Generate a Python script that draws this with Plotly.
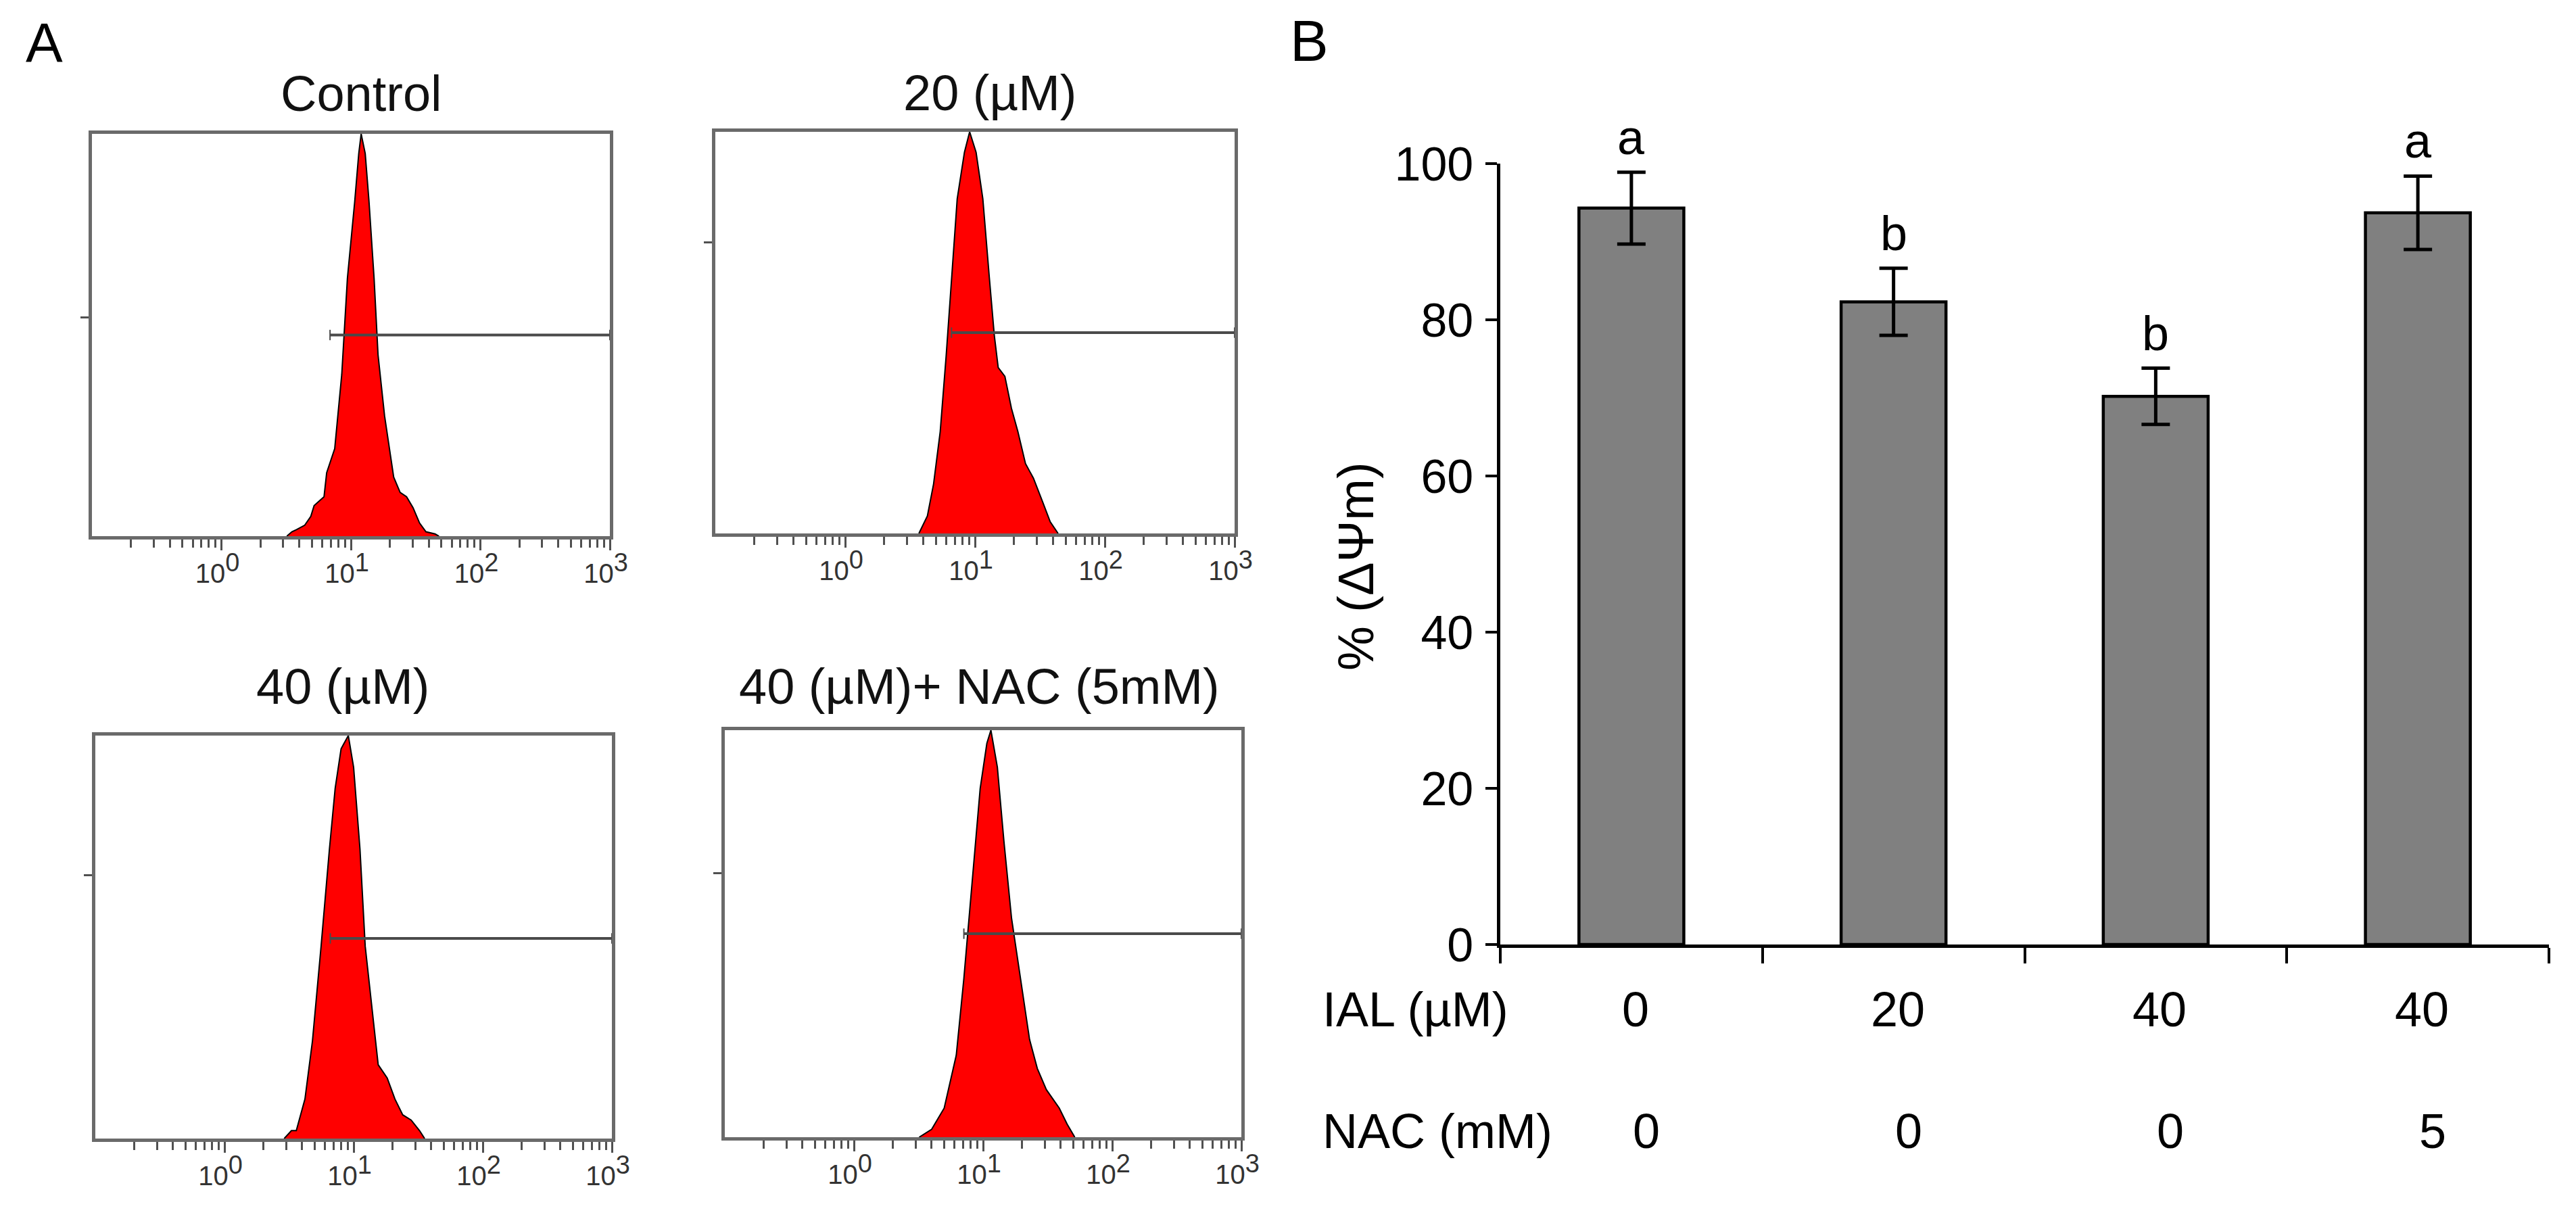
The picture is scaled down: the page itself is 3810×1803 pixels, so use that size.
import plotly.graph_objects as go

W, H = 3810, 1803

# ---- panel A: flow cytometry histograms (fluorescence, cell counts) ----
hist_titles = ['Control', '20 (µM)', '40 (µM)', '40 (µM)+ NAC (5mM)']

control_fl = [3.2, 3.5, 3.8, 4.4, 4.9, 5.2, 6.2, 6.5, 7.5, 8.5, 9.4, 10.7, 11.5, 12.0,
              12.9, 13.8, 15.1, 16.2, 18.2, 21.4, 24.0, 26.9, 30.2, 33.9, 38.0, 44.7, 47.9]
control_cnt = [0, 2, 3, 5, 9, 14, 18, 29, 40, 74, 118, 153, 175, 184,
               175, 153, 118, 83, 55, 27, 20, 18, 13, 6, 2, 1, 0]

ial20_fl = [3.7, 4.3, 4.8, 5.4, 6.0, 6.6, 7.3, 8.3, 9.1, 10.2, 11.5, 12.9, 14.1, 15.1,
            17.0, 19.1, 21.4, 24.5, 28.2, 33.1, 38.0, 43.7]
ial20_cnt = [0, 6, 17, 35, 61, 88, 115, 131, 138, 131, 115, 88, 68, 57,
             54, 43, 35, 24, 19, 11, 4, 0]

ial40_fl = [2.9, 3.3, 3.6, 4.2, 4.8, 5.6, 6.5, 7.2, 8.0, 9.1, 10.0, 11.2, 12.3, 13.8,
            15.5, 18.2, 20.9, 24.0, 27.9, 32.4, 35.5]
ial40_cnt = [0, 3, 3, 15, 37, 73, 110, 133, 148, 153, 141, 110, 73, 51,
             28, 23, 15, 9, 7, 3, 0]

nac_fl = [3.2, 4.0, 5.0, 6.2, 7.1, 8.3, 9.5, 10.7, 11.5, 12.9, 14.5, 16.6, 19.5, 22.9,
          26.3, 30.9, 38.9, 44.7, 51.3]
nac_cnt = [0, 3, 11, 31, 60, 99, 132, 149, 154, 140, 112, 83, 60, 37,
           26, 18, 11, 5, 0]

# M1 gate marker: start fluorescence, end fluorescence, count level
gate_start = [6.9, 6.6, 6.6, 7.1]
gate_end = [1000, 1000, 1000, 1000]
gate_level = [92, 69, 76, 77]

count_tick = [100]
decade_vals = [1, 10, 100, 1000]
decade_exp = ['0', '1', '2', '3']

# ---- panel B: mitochondrial membrane potential ----
groups = ['g1', 'g2', 'g3', 'g4']
ial_um = ['0', '20', '40', '40']
nac_mm = ['0', '0', '0', '5']
dpsi = [94.3, 82.3, 70.2, 93.7]
dpsi_err = [4.6, 4.3, 3.6, 4.7]
letters = ['a', 'b', 'b', 'a']
y_ticks = [0, 20, 40, 60, 80, 100]

FONT = 'Arial, Liberation Sans, sans-serif'


def fx(px):
    return px / W


def fy(py):
    return 1 - py / H


# box pixel positions (left, right, top, bottom)
boxes = [(128, 894, 190, 785), (1050, 1818, 187, 781),
         (133, 897, 1080, 1676), (1064, 1828, 1072, 1674)]
title_x = [526, 1456, 499, 1440]
title_base = [157, 156, 1034, 1034]

hists = [(control_fl, control_cnt), (ial20_fl, ial20_cnt),
         (ial40_fl, ial40_cnt), (nac_fl, nac_cnt)]

# minor log ticks 2..9 within each decade
minor_vals = []
for d in [0.1, 1, 10, 100]:
    for k in range(2, 10):
        minor_vals.append(round(k * d, 4))

# decade labels with a full-size raised exponent, as the cytometer prints them
decade_text = ['10<sup><span style="font-size:38px">%s</span></sup>' % e for e in decade_exp]

AX_GRAY = '#6a6a6a'
TICK_GRAY = '#505050'

fig = go.Figure()
layout = dict(
    width=W, height=H,
    margin=dict(l=0, r=0, t=0, b=0, pad=0),
    autosize=False,
    paper_bgcolor='white', plot_bgcolor='white',
    showlegend=False,
    font=dict(family=FONT, color='black'),
)
annotations = []

for i, (fl, cnt) in enumerate(hists):
    n = i + 1
    xa = 'x' if n == 1 else 'x%d' % n
    ya = 'y' if n == 1 else 'y%d' % n
    fig.add_trace(go.Scatter(
        x=fl, y=cnt, xaxis=xa, yaxis=ya,
        mode='lines', line=dict(color='black', width=2),
        fill='tozeroy', fillcolor='#ff0000', hoverinfo='skip'
    ))
    fig.add_trace(go.Scatter(
        x=[gate_start[i], gate_end[i]], y=[gate_level[i], gate_level[i]],
        xaxis=xa, yaxis=ya, mode='lines+markers', cliponaxis=False,
        line=dict(color='#4a4a4a', width=4),
        marker=dict(symbol='line-ns-open', size=11, line=dict(color='#4a4a4a', width=2))
    ))
    l, r, t, b = boxes[i]
    layout['xaxis' if n == 1 else 'xaxis%d' % n] = dict(
        domain=[fx(l), fx(r)], anchor=ya, type='log', range=[-1, 3],
        tickmode='array', tickvals=decade_vals, ticktext=decade_text,
        ticks='outside', ticklen=16, tickwidth=3, tickcolor=TICK_GRAY,
        ticklabelshift=-6,
        minor=dict(tickmode='array', tickvals=minor_vals, ticks='outside',
                   ticklen=12, tickwidth=3, tickcolor=TICK_GRAY),
        tickfont=dict(size=40, color='#333333'),
        showline=True, linecolor=AX_GRAY, linewidth=5, mirror=True,
        showgrid=False, zeroline=False, automargin=False
    )
    layout['yaxis' if n == 1 else 'yaxis%d' % n] = dict(
        domain=[fy(b), fy(t)], anchor=xa, range=[0, max(cnt)],
        tickmode='array', tickvals=count_tick, showticklabels=False,
        ticks='outside', ticklen=12, tickwidth=3, tickcolor=TICK_GRAY,
        showline=True, linecolor=AX_GRAY, linewidth=5, mirror=True,
        showgrid=False, zeroline=False, automargin=False
    )
    annotations.append(dict(
        text=hist_titles[i], xref='paper', yref='paper',
        x=fx(title_x[i]), y=fy(title_base[i] + 17),
        xanchor='center', yanchor='bottom', showarrow=False,
        font=dict(size=74, color='#111111')
    ))

# ---- bar chart ----
fig.add_trace(go.Bar(
    x=groups, y=dpsi, xaxis='x5', yaxis='y5',
    marker=dict(color='#808080', line=dict(color='black', width=4.5)),
    error_y=dict(type='data', array=dpsi_err, color='black', thickness=5, width=21),
    cliponaxis=False, hoverinfo='skip'
))
layout['bargap'] = 0.6
layout['xaxis5'] = dict(
    domain=[fx(2211), fx(3762)], anchor='y5', type='category',
    tickson='boundaries', ticks='outside', ticklen=23, tickwidth=4, tickcolor='black',
    showticklabels=False, showline=True, linecolor='black', linewidth=5,
    showgrid=False, zeroline=False, automargin=False
)
layout['yaxis5'] = dict(
    domain=[fy(1389), fy(234)], anchor='x5', range=[0, 100],
    tickmode='array', tickvals=y_ticks,
    ticks='outside', ticklen=17, tickwidth=4, tickcolor='black',
    tickfont=dict(size=70, color='black'), ticklabelstandoff=4,
    showline=True, linecolor='black', linewidth=4.5,
    showgrid=False, zeroline=False, automargin=False
)

for g, v, e, s in zip(groups, dpsi, dpsi_err, letters):
    annotations.append(dict(
        text=s, xref='x5', yref='y5', x=g, y=v + e, yshift=10,
        xanchor='center', yanchor='bottom', showarrow=False,
        font=dict(size=72, color='black')
    ))

for g, a, c in zip(groups, ial_um, nac_mm):
    annotations.append(dict(
        text=a, xref='x5', yref='paper', x=g, y=fy(1485), xshift=6,
        xanchor='center', yanchor='middle', showarrow=False,
        font=dict(size=72, color='black')
    ))
    annotations.append(dict(
        text=c, xref='x5', yref='paper', x=g, y=fy(1665), xshift=22,
        xanchor='center', yanchor='middle', showarrow=False,
        font=dict(size=72, color='black')
    ))

annotations += [
    dict(text='IAL (µM)', xref='paper', yref='paper', x=fx(1946), y=fy(1485),
         xanchor='left', yanchor='middle', showarrow=False, font=dict(size=72)),
    dict(text='NAC (mM)', xref='paper', yref='paper', x=fx(1946), y=fy(1665),
         xanchor='left', yanchor='middle', showarrow=False, font=dict(size=72)),
    dict(text='% (ΔΨm)', xref='paper', yref='paper', x=fx(1997), y=fy(830),
         xanchor='center', yanchor='middle', textangle=-90, showarrow=False,
         font=dict(size=74)),
    dict(text='A', xref='paper', yref='paper', x=fx(28), y=fy(55),
         xanchor='left', yanchor='middle', showarrow=False, font=dict(size=82)),
    dict(text='B', xref='paper', yref='paper', x=fx(1898), y=fy(53),
         xanchor='left', yanchor='middle', showarrow=False, font=dict(size=85)),
]

layout['annotations'] = annotations
fig.update_layout(**layout)

fig.write_html("out.html")
